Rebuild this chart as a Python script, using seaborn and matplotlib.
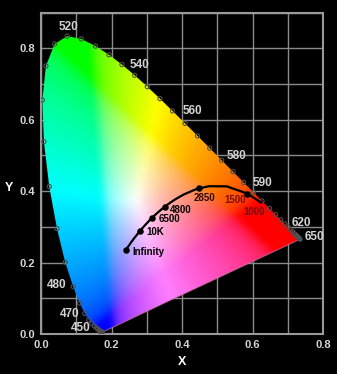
import numpy as np
import pandas as pd
import matplotlib
matplotlib.use("Agg")
import matplotlib.pyplot as plt
from matplotlib.patches import Polygon
from matplotlib.ticker import MultipleLocator
import seaborn as sns

# ---------------- data ----------------
# CIE 1931 2-degree spectral locus (5 nm steps)
wavelengths = [380, 385, 390, 395, 400, 405, 410, 415, 420, 425, 430, 435, 440, 445,
               450, 455, 460, 465, 470, 475, 480, 485, 490, 495, 500, 505, 510, 515,
               520, 525, 530, 535, 540, 545, 550, 555, 560, 565, 570, 575, 580, 585,
               590, 595, 600, 605, 610, 615, 620, 625, 630, 635, 640, 645, 650, 655,
               660, 670, 680, 700]
locus_x = [0.1741, 0.1740, 0.1738, 0.1736, 0.1733, 0.1730, 0.1726, 0.1721, 0.1714, 0.1703,
           0.1689, 0.1669, 0.1644, 0.1611, 0.1566, 0.1510, 0.1440, 0.1355, 0.1241, 0.1096,
           0.0913, 0.0687, 0.0454, 0.0235, 0.0082, 0.0039, 0.0139, 0.0389, 0.0743, 0.1142,
           0.1547, 0.1929, 0.2296, 0.2658, 0.3016, 0.3373, 0.3731, 0.4087, 0.4441, 0.4788,
           0.5125, 0.5448, 0.5752, 0.6029, 0.6270, 0.6482, 0.6658, 0.6801, 0.6915, 0.7006,
           0.7079, 0.7140, 0.7190, 0.7230, 0.7260, 0.7283, 0.7300, 0.7320, 0.7334, 0.7347]
locus_y = [0.0050, 0.0050, 0.0049, 0.0049, 0.0048, 0.0048, 0.0048, 0.0048, 0.0051, 0.0058,
           0.0069, 0.0086, 0.0109, 0.0138, 0.0177, 0.0227, 0.0297, 0.0399, 0.0578, 0.0868,
           0.1327, 0.2007, 0.2950, 0.4127, 0.5384, 0.6548, 0.7502, 0.8120, 0.8338, 0.8262,
           0.8059, 0.7816, 0.7543, 0.7243, 0.6923, 0.6589, 0.6245, 0.5896, 0.5547, 0.5202,
           0.4866, 0.4544, 0.4242, 0.3965, 0.3725, 0.3514, 0.3340, 0.3197, 0.3083, 0.2993,
           0.2920, 0.2859, 0.2809, 0.2770, 0.2740, 0.2717, 0.2700, 0.2680, 0.2666, 0.2653]

# labelled wavelengths
wl_labels = [520, 540, 560, 580, 590, 620, 650, 480, 470, 450]

# Planckian locus (temperature in K, chromaticity)
planck_T = [1000, 1200, 1500, 2000, 2500, 2850, 3000, 3500, 4000, 4500, 4800, 5000,
            5500, 6000, 6500, 7000, 8000, 10000, 15000, 20000, np.inf]
planck_x = [0.6528, 0.6250, 0.5857, 0.5267, 0.4770, 0.4479, 0.4369, 0.4053, 0.3805,
            0.3608, 0.3512, 0.3451, 0.3324, 0.3221, 0.3135, 0.3064, 0.2952, 0.2807,
            0.2637, 0.2565, 0.2399]
planck_y = [0.3444, 0.3675, 0.3931, 0.4133, 0.4137, 0.4077, 0.4041, 0.3907, 0.3768,
            0.3636, 0.3564, 0.3516, 0.3410, 0.3318, 0.3236, 0.3166, 0.3048, 0.2884,
            0.2674, 0.2577, 0.2342]

# marked / labelled temperatures
planck_marked_T = [np.inf, 10000, 6500, 4800, 2850, 1500]
planck_label_T = [np.inf, 10000, 6500, 4800, 2850, 1500, 1000]
planck_label_text = ["Infinity", "10K", "6500", "4800", "2850", "1500", "1000"]

x_ticks = [0.0, 0.2, 0.4, 0.6, 0.8]
y_ticks = [0.0, 0.2, 0.4, 0.6, 0.8]

# ---------------- styling ----------------
sns.set_style("dark", rc={"axes.facecolor": "black", "figure.facecolor": "black"})
plt.rcParams["font.family"] = ["Liberation Sans", "DejaVu Sans"]
plt.rcParams["font.weight"] = "bold"

fig = plt.figure(figsize=(3.37, 3.74), dpi=100, facecolor="black")
ax = fig.add_axes([41 / 337, 40 / 374, 282 / 337, 321.5 / 374])
ax.set_facecolor("black")


# ---------------- chromaticity fill ----------------
def mat_from_prims(r, g, b, w):
    def xyz(c):
        cx, cy = c
        return np.array([cx / cy, 1.0, (1 - cx - cy) / cy])
    P = np.column_stack([xyz(r), xyz(g), xyz(b)])
    S = np.linalg.solve(P, xyz(w))
    return np.linalg.inv(P * S)


def blur(a, sigma):
    r = int(3 * sigma)
    k = np.exp(-0.5 * (np.arange(-r, r + 1) / sigma) ** 2)
    k /= k.sum()
    for axis in (0, 1):
        pad = [(0, 0)] * a.ndim
        pad[axis] = (r, r)
        p = np.pad(a, pad, mode="edge")
        a = np.apply_along_axis(lambda v: np.convolve(v, k, mode="valid"), axis, p)
    return a


M = mat_from_prims((0.55, 0.33), (0.15, 0.70), (0.20, 0.06), (0.27, 0.37))
gx = np.linspace(0, 0.8, 400)
gy = np.linspace(0, 0.9, 450)
GX, GY = np.meshgrid(gx, gy)
yy = np.clip(GY, 1e-3, None)
XYZ = np.stack([GX / yy, np.ones_like(GX), (1 - GX - GY) / yy], axis=-1)
rgb = XYZ @ M.T
rgb = np.clip(rgb, 0, None)
rgb = rgb / np.clip(rgb.max(axis=-1, keepdims=True), 1e-9, None)
rgb = np.clip(rgb ** (1 / 2.6), 0, 1)
# soften the purples toward pink / lavender
mag = np.clip(np.minimum(rgb[..., 0], rgb[..., 2]) - rgb[..., 1], 0, 1)[..., None]
rgb = rgb + 0.5 * mag * (1 - rgb)
rgb = np.clip(blur(rgb, 5.0), 0, 1)

img = ax.imshow(rgb, extent=(0, 0.8, 0, 0.9), origin="lower", aspect="auto",
                interpolation="bilinear", zorder=1)
poly = Polygon(np.column_stack([locus_x, locus_y]), closed=True,
               transform=ax.transData, facecolor="none", edgecolor="none")
ax.add_patch(poly)
img.set_clip_path(poly)

# thin purple-line edge
ax.plot([locus_x[0], locus_x[-1]], [locus_y[0], locus_y[-1]],
        color="#d070a0", lw=0.8, zorder=2, alpha=0.7)

# spectral locus markers
locus_df = pd.DataFrame({"x": locus_x, "y": locus_y, "wl": wavelengths})
sns.scatterplot(data=locus_df, x="x", y="y", ax=ax, marker="o", s=9,
                facecolor="none", edgecolor="#505050", linewidth=0.8, zorder=3)

# wavelength labels
wl_offsets = {520: (1, 9, "center"), 540: (8, 0, "left"), 560: (10, 0, "left"),
              580: (5, 4, "left"), 590: (9, -1, "left"), 620: (7, 1, "left"),
              650: (8, -1, "left"), 480: (-7, 2, "right"), 470: (-5, -1, "right"),
              450: (-6, 0, "right")}
for wl in wl_labels:
    i = wavelengths.index(wl)
    dx, dy, ha = wl_offsets[wl]
    ax.annotate(str(wl), (locus_x[i], locus_y[i]), xytext=(dx, dy),
                textcoords="offset pixels", ha=ha, va="center",
                fontsize=8.5, fontweight="bold", color="#d4d4d4", zorder=5)

# Planckian locus
planck_df = pd.DataFrame({"T": planck_T, "x": planck_x, "y": planck_y})
line_df = planck_df[planck_df["T"] >= 1200]
sns.lineplot(data=line_df, x="x", y="y", sort=False, estimator=None, ax=ax,
             color="black", lw=1.6, zorder=4)
marked = planck_df[planck_df["T"].isin(planck_marked_T)]
sns.scatterplot(data=marked, x="x", y="y", ax=ax, color="black", s=22,
                edgecolor="black", linewidth=0, zorder=4)

pl_offsets = [(7, -2, "left", "black"), (6, -1, "left", "black"),
              (7, -1, "left", "black"), (5, -3, "left", "black"),
              (-5, -10, "left", "#2a0800"), (-12, -6, "center", "#7a0c0c"),
              (-17, -1, "center", "#7a0c0c")]
for T, txt, (dx, dy, ha, col) in zip(planck_label_T, planck_label_text, pl_offsets):
    i = planck_T.index(T)
    ax.annotate(txt, (planck_x[i], planck_y[i]), xytext=(dx, dy),
                textcoords="offset pixels", ha=ha, va="center",
                fontsize=7, fontweight="bold", color=col, zorder=5)

# ---------------- axes ----------------
ax.set_xlim(0, 0.8)
ax.set_ylim(0, 0.9)
ax.set_xticks(x_ticks)
ax.set_yticks(y_ticks)
ax.set_xticklabels([f"{v:.1f}" for v in x_ticks])
ax.set_yticklabels([f"{v:.1f}" for v in y_ticks])
ax.xaxis.set_minor_locator(MultipleLocator(0.1))
ax.yaxis.set_minor_locator(MultipleLocator(0.1))
ax.set_axisbelow(True)
ax.grid(True, which="both", color="#8a8a8a", lw=1.0, zorder=0.5)
ax.tick_params(which="both", length=0, colors="#d4d4d4", labelsize=8, pad=4)
for lab in ax.get_xticklabels() + ax.get_yticklabels():
    lab.set_fontweight("bold")
for sp in ax.spines.values():
    sp.set_visible(True)
    sp.set_color("#9a9a9a")
    sp.set_linewidth(1.5)

ax.set_xlabel("X", color="white", fontsize=9, fontweight="bold", va="center")
ax.set_ylabel("Y", color="white", fontsize=9, fontweight="bold", rotation=0,
              va="center", ha="center")
ax.xaxis.set_label_coords(0.5, -0.087)
ax.yaxis.set_label_coords(-0.113, 0.454)

fig.savefig("out.png", dpi=100, facecolor="black")
